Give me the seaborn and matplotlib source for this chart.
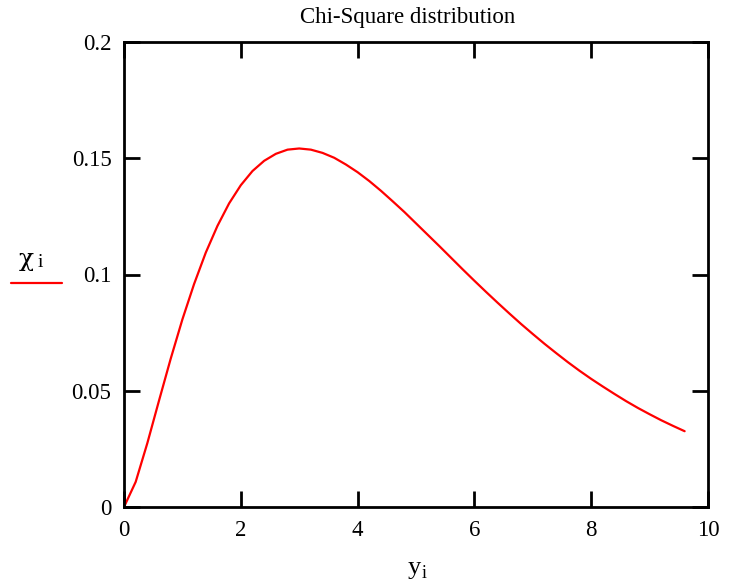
import matplotlib
matplotlib.use("Agg")
import matplotlib.pyplot as plt
from matplotlib.lines import Line2D
import seaborn as sns
import pandas as pd

# Density values of the curve, sampled every 0.2 along y
y_vals = [0.0, 0.2, 0.4, 0.6, 0.8, 1.0, 1.2, 1.4, 1.6, 1.8,
          2.0, 2.2, 2.4, 2.6, 2.8, 3.0, 3.2, 3.4, 3.6, 3.8,
          4.0, 4.2, 4.4, 4.6, 4.8, 5.0, 5.2, 5.4, 5.6, 5.8,
          6.0, 6.2, 6.4, 6.6, 6.8, 7.0, 7.2, 7.4, 7.6, 7.8,
          8.0, 8.2, 8.4, 8.6, 8.8, 9.0, 9.2, 9.4, 9.6]
chi_vals = [0.0, 0.0108, 0.0275, 0.0458, 0.0638, 0.0807, 0.0959, 0.1094, 0.1209, 0.1306,
            0.1384, 0.1445, 0.1489, 0.1519, 0.1537, 0.1542, 0.1537, 0.1523, 0.1502, 0.1473,
            0.1440, 0.1402, 0.1360, 0.1315, 0.1269, 0.1220, 0.1171, 0.1122, 0.1072, 0.1022,
            0.0973, 0.0925, 0.0878, 0.0832, 0.0787, 0.0744, 0.0702, 0.0662, 0.0623, 0.0586,
            0.0551, 0.0518, 0.0486, 0.0455, 0.0426, 0.0399, 0.0373, 0.0349, 0.0326]

x_ticks = [0, 2, 4, 6, 8, 10]
y_ticks = [0, 0.05, 0.1, 0.15, 0.2]
y_tick_labels = ["0", "0.05", "0.1", "0.15", "0.2"]

sns.set_style("white")
plt.rcParams["font.family"] = ["Liberation Serif", "DejaVu Serif"]
plt.rcParams["text.color"] = "black"
plt.rcParams["xtick.color"] = "black"
plt.rcParams["ytick.color"] = "black"

df = pd.DataFrame({"y": y_vals, "chi": chi_vals})

fig = plt.figure(figsize=(7.34, 5.83), dpi=100)
ax = fig.add_axes([124 / 734, 1 - 507 / 583, 584 / 734, 465 / 583])

sns.lineplot(data=df, x="y", y="chi", ax=ax, color="#ff0000", linewidth=1.6)

ax.set_xlim(0, 10)
ax.set_ylim(0, 0.2)
ax.set_xticks(x_ticks)
ax.set_xticklabels([str(t) for t in x_ticks])
ax.set_yticks(y_ticks)
ax.set_yticklabels(y_tick_labels)
ax.tick_params(direction="in", length=11.5, width=2, labelsize=16.5,
               top=True, right=True, bottom=True, left=True)
ax.tick_params(axis="x", pad=9)
ax.tick_params(axis="y", pad=9)
for side in ax.spines.values():
    side.set_visible(True)
    side.set_linewidth(2)
    side.set_color("black")
ax.set_xlabel("")
ax.set_ylabel("")

fig.text(408 / 734, 1 - 17 / 583, "Chi-Square distribution", ha="center", va="center", fontsize=16.5)

# x-axis variable name with subscript
fig.text(421 / 734, 1 - 568 / 583, "y", ha="right", va="center", fontsize=19)
fig.text(422 / 734, 1 - 574 / 583, "i", ha="left", va="center", fontsize=13)

# legend entry for the curve
fig.text(26 / 734, 1 - 259 / 583, "χ", ha="center", va="center", fontsize=18,
         family="DejaVu Serif")
fig.text(38 / 734, 1 - 262 / 583, "i", ha="left", va="center", fontsize=14)
fig.add_artist(Line2D([11 / 734, 62 / 734], [1 - 283 / 583, 1 - 283 / 583],
                      color="#ff0000", linewidth=1.6, transform=fig.transFigure))

fig.savefig("out.png", dpi=100, facecolor="white")
